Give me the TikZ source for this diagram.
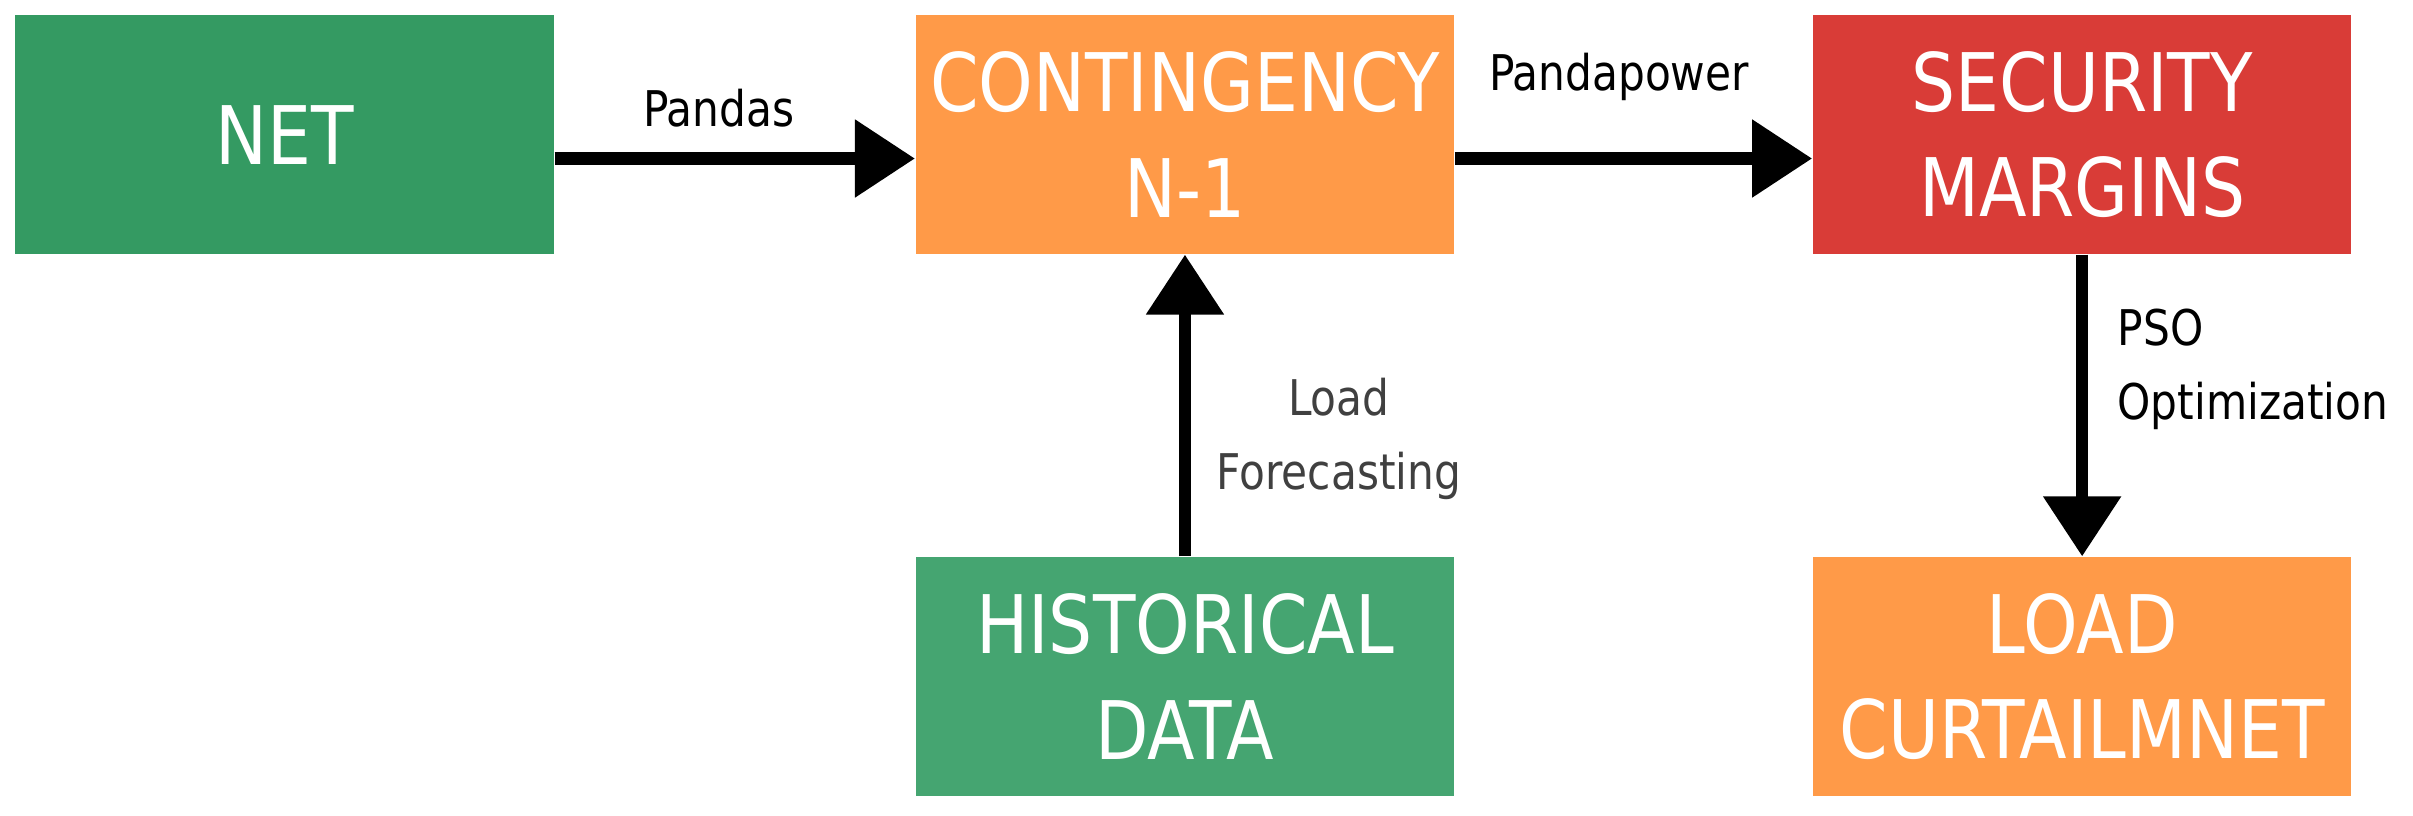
\documentclass[tikz,border=0pt]{standalone}
\usepackage{fontspec}
\setmainfont{DejaVu Sans}[FakeStretch=0.86]
\usetikzlibrary{arrows.meta}
\definecolor{g1}{HTML}{349A62}
\definecolor{g2}{HTML}{45A571}
\definecolor{or}{HTML}{FF9A48}
\definecolor{rd}{HTML}{D93C37}
\begin{document}
\begin{tikzpicture}[x=0.01539cm,y=-0.01539cm,
box/.style={minimum width=350*0.01539cm,minimum height=155*0.01539cm,inner sep=0,text=white,align=center,font=\fontsize{23}{30}\selectfont},
arr/.style={line width=3.5pt,-{Triangle[length=0.6cm,width=0.75cm]}},
lab/.style={font=\fontsize{14}{21}\selectfont}]
\useasboundingbox (0,0) rectangle (1568,530);
\node[box,fill=g1] (net) at (185,87.5) {NET};
\node[box,fill=or] (con) at (770,87.5) {CONTINGENCY\\N-1};
\node[box,fill=rd] (sec) at (1353,87.5) {SECURITY\\MARGINS};
\node[box,fill=g2] (his) at (770,439.5) {HISTORICAL\\DATA};
\node[box,fill=or] (load) at (1353,439.5) {LOAD\\CURTAILMNET};
\draw[arr] (net.east|-0,103) -- (con.west|-0,103);
\draw[arr] (con.east|-0,103) -- (sec.west|-0,103);
\draw[arr] (his) -- (con);
\draw[arr] (sec) -- (load);
\node[lab] (l1) at (467,70) {Pandas};
\node[lab] (l2) at (1052,50) {Pandapower};
\node[lab,text=black!75,align=center] (l3) at (870,285) {Load\\Forecasting};
\node[lab,align=left,anchor=west] (l4) at (1368,240) {PSO\\Optimization};
\end{tikzpicture}
\end{document}
